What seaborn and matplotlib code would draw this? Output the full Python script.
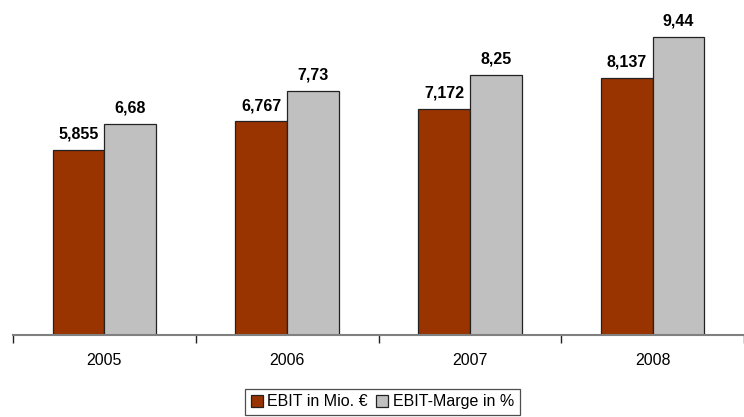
import matplotlib
matplotlib.use("Agg")
import matplotlib.pyplot as plt
import seaborn as sns
import pandas as pd

# Data
years = ["2005", "2006", "2007", "2008"]
ebit = [5.855, 6.767, 7.172, 8.137]
margin = [6.68, 7.73, 8.25, 9.44]
series = ["EBIT in Mio. €", "EBIT-Marge in %"]

df = pd.DataFrame({
    "Jahr": years * 2,
    "Wert": ebit + margin,
    "Serie": [series[0]] * len(years) + [series[1]] * len(years),
})

palette = {series[0]: "#993300", series[1]: "#C0C0C0"}

sns.set_style("white")
plt.rcParams["font.family"] = ["Liberation Sans", "DejaVu Sans"]
plt.rcParams["text.color"] = "black"
plt.rcParams["xtick.color"] = "black"

fig = plt.figure(figsize=(7.44, 4.17), dpi=100)
ax = fig.add_axes([13 / 744, 82 / 417, 731 / 744, 335 / 417])

sns.barplot(data=df, x="Jahr", y="Wert", hue="Serie", palette=palette,
            width=0.566, edgecolor="#222222", linewidth=0.9,
            saturation=1, ax=ax)

# value labels with German decimal comma
for cont in ax.containers:
    vals = [b.get_height() for b in cont]
    labs = [f"{v:g}".replace(".", ",") for v in vals]
    ax.bar_label(cont, labels=labs, padding=6, fontsize=11.5,
                 fontweight="bold", color="black")

ax.set_ylim(0, 10.61)
ax.set_xlim(-0.5, 3.45)
ax.set_xlabel("")
ax.set_ylabel("")
ax.set_yticks([])

for s in ["left", "top", "right"]:
    ax.spines[s].set_visible(False)
ax.spines["bottom"].set_color("#808080")
ax.spines["bottom"].set_linewidth(1.5)

ax.set_xticks(range(len(years)))
ax.set_xticklabels(years, fontsize=11.5)
ax.set_xticks([-0.5, 0.5, 1.5, 2.5, 3.5], minor=True)
ax.tick_params(axis="x", which="major", length=0, pad=13)
ax.tick_params(axis="x", which="minor", length=6, width=1, color="#222222",
               direction="out", bottom=True)

handles, labels = ax.get_legend_handles_labels()
ax.legend_.remove()
leg = fig.legend(handles, labels, loc="center", bbox_to_anchor=(0.514, 0.036),
                 ncol=2, fontsize=11.5, frameon=True, fancybox=False,
                 handlelength=0.75, handleheight=0.75, handletextpad=0.3,
                 columnspacing=0.5, borderpad=0.35, borderaxespad=0)
leg.get_frame().set_edgecolor("#222222")
leg.get_frame().set_linewidth(0.9)

fig.savefig("out.png", dpi=100)
